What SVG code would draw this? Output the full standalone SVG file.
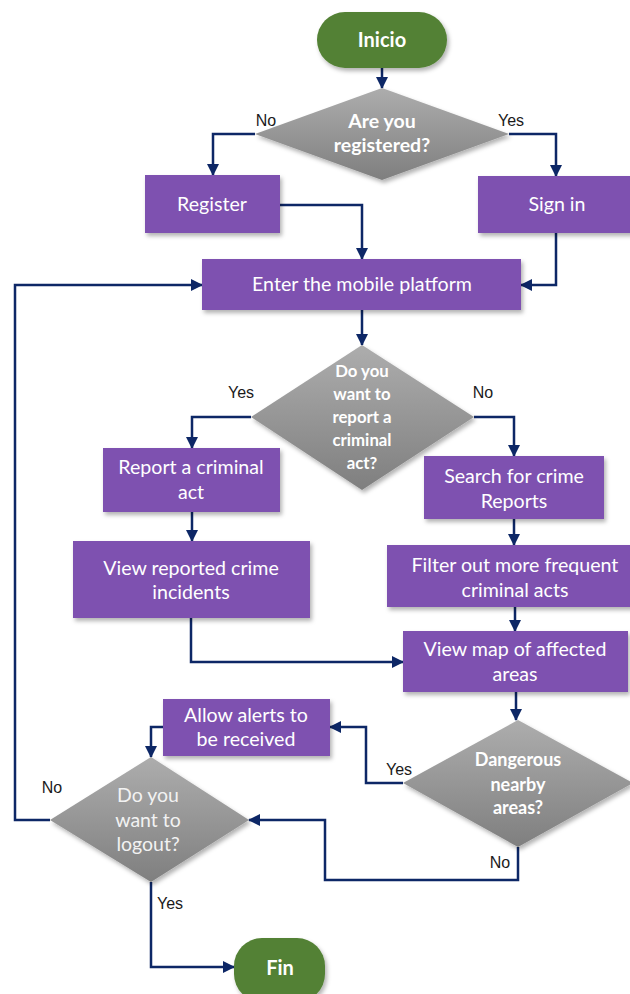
<svg xmlns="http://www.w3.org/2000/svg" width="630" height="994" viewBox="0 0 630 994">
<defs>
<linearGradient id="gray" x1="0" y1="0" x2="0" y2="1">
<stop offset="0" stop-color="#ADADAD"/>
<stop offset="1" stop-color="#7F7F7F"/>
</linearGradient>
<filter id="sh" x="-10%" y="-10%" width="130%" height="140%">
<feDropShadow dx="2" dy="3" stdDeviation="2" flood-color="#000" flood-opacity="0.3"/>
</filter>
<marker id="ah" markerUnits="userSpaceOnUse" markerWidth="12" markerHeight="12" refX="11" refY="6" orient="auto">
<path d="M0,0 L12,6 L0,12 z" fill="#0D2766"/>
</marker>
</defs>
<style>
.box{fill:#7E51B0;filter:url(#sh)}
.term{fill:#538135;filter:url(#sh)}
.dia{fill:url(#gray);filter:url(#sh)}
.t{font-family:Lato,"Liberation Sans",sans-serif;font-size:19.6px;fill:#FFFFFF;text-anchor:middle}
.tb{font-family:Lato,"Liberation Sans",sans-serif;font-size:17px;font-weight:bold;fill:#FFFFFF;text-anchor:middle}
.tb1{font-size:19.5px}
.tb2{font-size:16.8px}
.tb3{font-size:18px}
.tt{font-family:Lato,"Liberation Sans",sans-serif;font-size:20px;font-weight:bold;fill:#FFFFFF;text-anchor:middle}
.td{font-family:Lato,"Liberation Sans",sans-serif;font-size:19.5px;fill:#F2F2F2;text-anchor:middle}
.lbl{font-family:"Liberation Sans",sans-serif;font-size:16px;fill:#1A1A1A;text-anchor:middle}
.c{fill:none;stroke:#0D2766;stroke-width:2.5;marker-end:url(#ah)}
</style>

<g id="connectors">
<path class="c" d="M382,68 V88"/>
<path class="c" d="M255,134 H213 V175"/>
<path class="c" d="M509,134 H556 V176"/>
<path class="c" d="M280,205 H362 V259"/>
<path class="c" d="M556,233 V285 H521"/>
<path class="c" d="M362,310 V345"/>
<path class="c" d="M251,417 H192 V448"/>
<path class="c" d="M474,417 H514 V456"/>
<path class="c" d="M192,512 V541"/>
<path class="c" d="M514,519 V545"/>
<path class="c" d="M515,607 V631"/>
<path class="c" d="M191,618 V662 H403"/>
<path class="c" d="M516,692 V720"/>
<path class="c" d="M403,783 H366 V727 H330"/>
<path class="c" d="M163,727 H151 V757"/>
<path class="c" d="M518,847 V880 H325 V820 H249"/>
<path class="c" d="M50,820 H15 V285 H202"/>
<path class="c" d="M151,882 V967 H234"/>
<text class="lbl" x="266" y="126">No</text>
<text class="lbl" x="511" y="126">Yes</text>
<text class="lbl" x="241" y="398">Yes</text>
<text class="lbl" x="483" y="398">No</text>
<text class="lbl" x="399" y="775">Yes</text>
<text class="lbl" x="500" y="868">No</text>
<text class="lbl" x="52" y="793">No</text>
<text class="lbl" x="170" y="909">Yes</text>
</g>

<g id="inicio">
<rect class="term" x="317" y="12" width="130" height="56" rx="28"/>
<text class="tt" x="382" y="47">Inicio</text>
</g>

<g id="registered">
<polygon class="dia" points="382,88 509,134 382,180 255,134"/>
<text class="tb tb1" x="382" y="128">Are you</text>
<text class="tb tb1" x="382" y="152">registered?</text>
</g>

<g id="register">
<rect class="box" x="145" y="175" width="135" height="58"/>
<text class="t" x="212" y="211">Register</text>
</g>

<g id="signin">
<rect class="box" x="478" y="176" width="156" height="57"/>
<text class="t" x="557" y="211">Sign in</text>
</g>

<g id="enter">
<rect class="box" x="202" y="259" width="319" height="51"/>
<text class="t" x="362" y="291">Enter the mobile platform</text>
</g>

<g id="report-question">
<polygon class="dia" points="362,345 474,417 362,490 251,417"/>
<text class="tb tb2" x="362" y="377">Do you</text>
<text class="tb tb2" x="362" y="400">want to</text>
<text class="tb tb2" x="362" y="423">report a</text>
<text class="tb tb2" x="362" y="446">criminal</text>
<text class="tb tb2" x="362" y="469">act?</text>
</g>

<g id="report">
<rect class="box" x="103" y="448" width="177" height="64"/>
<text class="t" x="191" y="474">Report a criminal</text>
<text class="t" x="191" y="499">act</text>
</g>

<g id="view-reported">
<rect class="box" x="73" y="541" width="237" height="77"/>
<text class="t" x="191" y="575">View reported crime</text>
<text class="t" x="191" y="599">incidents</text>
</g>

<g id="search">
<rect class="box" x="424" y="456" width="180" height="63"/>
<text class="t" x="514" y="483">Search for crime</text>
<text class="t" x="514" y="508">Reports</text>
</g>

<g id="filter">
<rect class="box" x="387" y="545" width="256" height="62"/>
<text class="t" x="515" y="572">Filter out more frequent</text>
<text class="t" x="515" y="597">criminal acts</text>
</g>

<g id="view-map">
<rect class="box" x="403" y="631" width="225" height="61"/>
<text class="t" x="515" y="656">View map of affected</text>
<text class="t" x="515" y="681">areas</text>
</g>

<g id="dangerous">
<polygon class="dia" points="518,720 633,783 518,847 403,783"/>
<text class="tb tb3" x="518" y="766">Dangerous</text>
<text class="tb tb3" x="518" y="791">nearby</text>
<text class="tb tb3" x="518" y="814">areas?</text>
</g>

<g id="allow">
<rect class="box" x="163" y="699" width="167" height="57"/>
<text class="t" x="246" y="722">Allow alerts to</text>
<text class="t" x="246" y="746">be received</text>
</g>

<g id="logout">
<polygon class="dia" points="151,757 249,820 151,882 50,820"/>
<text class="td" x="148" y="802">Do you</text>
<text class="td" x="148" y="827">want to</text>
<text class="td" x="148" y="851">logout?</text>
</g>

<g id="fin">
<rect class="term" x="234" y="938" width="91" height="64" rx="28"/>
<text class="tt" x="280" y="975">Fin</text>
</g>
</svg>
